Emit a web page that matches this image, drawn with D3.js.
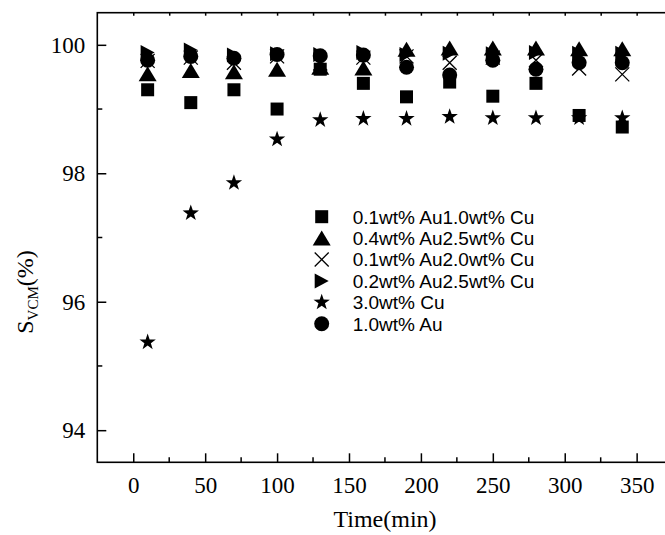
<!DOCTYPE html>
<html>
<head>
<meta charset="utf-8">
<script src="https://cdn.jsdelivr.net/npm/d3@7"></script>
<style>
  html, body { margin: 0; padding: 0; background: #fff; }
  svg { display: block; }
</style>
</head>
<body>
<svg id="chart" width="665" height="535"></svg>
<script>
// Reaction time (min)
const times = [10, 40, 70, 100, 130, 160, 190, 220, 250, 280, 310, 340];

// VCM selectivity (%) for each catalyst
const au01cu10 = [99.30, 99.10, 99.30, 99.00, 99.62, 99.40, 99.19, 99.42, 99.20, 99.40, 98.90, 98.72];
const au04cu25 = [99.55, 99.60, 99.58, 99.62, 99.65, 99.64, 99.93, 99.95, 99.95, 99.95, 99.94, 99.94];
const au01cu20 = [99.75, 99.80, 99.72, 99.82, 99.71, 99.80, 99.82, 99.72, 99.80, 99.76, 99.63, 99.54];
const au02cu25 = [99.88, 99.92, 99.84, 99.86, 99.85, 99.88, 99.85, 99.87, 99.86, 99.88, 99.87, 99.87];
const cu30     = [95.37, 97.38, 97.85, 98.53, 98.83, 98.85, 98.85, 98.88, 98.86, 98.86, 98.86, 98.86];
const au10     = [99.76, 99.82, 99.79, 99.85, 99.83, 99.84, 99.65, 99.53, 99.76, 99.62, 99.72, 99.72];

const seriesLabels = ["0.1wt% Au1.0wt% Cu", "0.4wt% Au2.5wt% Cu", "0.1wt% Au2.0wt% Cu",
                      "0.2wt% Au2.5wt% Cu", "3.0wt% Cu", "1.0wt% Au"];
const seriesValues = [au01cu10, au04cu25, au01cu20, au02cu25, cu30, au10];
const seriesShapes = ["square", "triangle", "cross", "rightTriangle", "star", "circle"];

const xTickValues = [0, 50, 100, 150, 200, 250, 300, 350];
const xMinorValues = [25, 75, 125, 175, 225, 275, 325];
const yTickValues = [94, 96, 98, 100];
const yMinorValues = [95, 97, 99];

const svg = d3.select("#chart");
const x = d3.scaleLinear().domain([-25, 375]).range([97.3, 672.6]);
const y = d3.scaleLinear().domain([93.5, 100.5]).range([462.3, 12.7]);

const serif = "'Liberation Serif', 'Times New Roman', serif";
const sans = "'Liberation Sans', Arial, sans-serif";

// Marker outlines centred on (0,0)
function shapePath(kind) {
  switch (kind) {
    case "square": { const s = 6.5; return `M${-s},${-s}H${s}V${s}H${-s}Z`; }
    case "triangle": { const w = 9, h = 7.5; return `M0,${-h}L${w},${h}L${-w},${h}Z`; }
    case "rightTriangle": { const w = 7, h = 7.5; return `M${w},0L${-w},${-h}L${-w},${h}Z`; }
    case "circle": { const r = 7.5; return `M${r},0A${r},${r} 0 1,1 ${-r},0A${r},${r} 0 1,1 ${r},0Z`; }
    case "cross": { const c = 7; return `M${-c},${-c}L${c},${c}M${-c},${c}L${c},${-c}`; }
    case "star": {
      const R = 8.6, r = 3.4; let d = "";
      for (let i = 0; i < 10; i++) {
        const rad = i % 2 === 0 ? R : r;
        const a = -Math.PI / 2 + i * Math.PI / 5;
        d += (i === 0 ? "M" : "L") + (rad * Math.cos(a)).toFixed(2) + "," + (rad * Math.sin(a)).toFixed(2);
      }
      return d + "Z";
    }
  }
}
function styleMarker(sel, kind) {
  if (kind === "cross") sel.attr("fill", "none").attr("stroke", "#000").attr("stroke-width", 1.3);
  else sel.attr("fill", "#000").attr("stroke", "none");
}

// Bottom axis with labels and inward ticks, plus minor ticks
const gxb = svg.append("g").attr("transform", `translate(0,${y.range()[0]})`)
  .call(d3.axisBottom(x).tickValues(xTickValues).tickSize(-9).tickPadding(14).tickFormat(d3.format("d")));
gxb.selectAll(".minorTick").data(xMinorValues).enter().append("line").attr("class", "minorTick")
  .attr("x1", d => x(d)).attr("x2", d => x(d)).attr("y1", 0).attr("y2", -5);

// Top axis: short ticks only
const gxt = svg.append("g").attr("transform", `translate(0,${y.range()[1]})`)
  .call(d3.axisTop(x).tickValues(xTickValues.concat(xMinorValues)).tickSize(-3).tickFormat(""));

// Left axis with labels and minor ticks
const gyl = svg.append("g").attr("transform", `translate(${x.range()[0]},0)`)
  .call(d3.axisLeft(y).tickValues(yTickValues).tickSize(-9).tickPadding(12).tickFormat(d3.format("d")));
gyl.selectAll(".minorTick").data(yMinorValues).enter().append("line").attr("class", "minorTick")
  .attr("x1", 0).attr("x2", 5).attr("y1", d => y(d)).attr("y2", d => y(d));

[gxb, gxt, gyl].forEach(g => {
  g.select(".domain").remove();
  g.selectAll("line").attr("stroke", "#000").attr("stroke-width", 1.5);
  g.selectAll("text").attr("font-family", serif).attr("font-size", 23).attr("fill", "#000");
});

// Frame
svg.append("rect")
  .attr("x", x.range()[0]).attr("y", y.range()[1])
  .attr("width", x.range()[1] - x.range()[0]).attr("height", y.range()[0] - y.range()[1])
  .attr("fill", "none").attr("stroke", "#000").attr("stroke-width", 1.6);

// Data markers
seriesValues.forEach((vals, si) => {
  const kind = seriesShapes[si];
  svg.append("g").attr("class", "series-" + si)
    .selectAll("path").data(times.map((t, i) => ({ t, v: vals[i] }))).enter().append("path")
    .attr("d", shapePath(kind))
    .attr("transform", d => `translate(${x(d.t)},${y(d.v)})`)
    .call(styleMarker, kind);
});

// Legend
const legend = svg.append("g").attr("transform", "translate(321.7,216.7)");
seriesLabels.forEach((lab, i) => {
  const row = legend.append("g").attr("transform", `translate(0,${i * 21.4})`);
  row.append("path").attr("d", shapePath(seriesShapes[i])).call(styleMarker, seriesShapes[i]);
  row.append("text").attr("x", 31).attr("y", 0).attr("dy", "0.36em")
    .attr("font-family", sans).attr("font-size", 19).attr("fill", "#000").text(lab);
});

// Axis titles
svg.append("text")
  .attr("x", 385).attr("y", 527)
  .attr("text-anchor", "middle").attr("font-family", serif).attr("font-size", 24)
  .text("Time(min)");

const yTitle = svg.append("text")
  .attr("transform", "translate(33,292) rotate(-90)")
  .attr("text-anchor", "middle").attr("font-family", serif).attr("font-size", 24);
yTitle.append("tspan").text("S");
yTitle.append("tspan").attr("font-size", 15).attr("dy", 5).text("VCM");
yTitle.append("tspan").attr("dy", -5).text("(%)");
</script>
</body>
</html>
